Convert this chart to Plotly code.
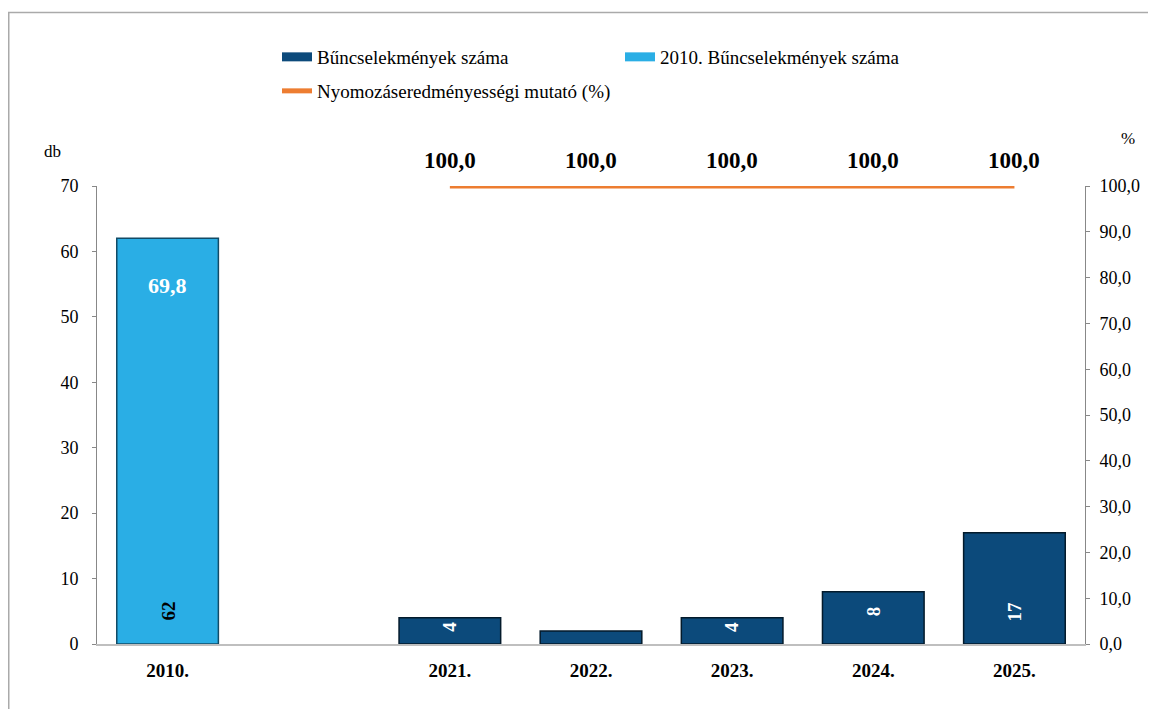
import plotly.graph_objects as go

categories = ["2010.", "", "2021.", "2022.", "2023.", "2024.", "2025."]
crimes = [None, None, 4, 2, 4, 8, 17]
crimes_2010 = [62, None, None, None, None, None, None]
rate = [None, None, 100.0, 100.0, 100.0, 100.0, 100.0]
rate_2010 = 69.8

name_crimes = "Bűncselekmények száma"
name_2010 = "2010. Bűncselekmények száma"
name_rate = "Nyomozáseredményességi mutató (%)"

NAVY = "#0C4A7B"
LIGHT = "#2AAEE5"
ORANGE = "#ED7D31"
FONT = "Liberation Serif"

xpos = list(range(len(categories)))

def fmt(v):
    return f"{v:.1f}".replace(".", ",")

fig = go.Figure()

fig.add_trace(go.Bar(
    x=xpos, y=crimes_2010, width=0.72,
    marker=dict(color=LIGHT, line=dict(color="#124B66", width=1.5)),
    showlegend=False, hoverinfo="skip"))
fig.add_trace(go.Bar(
    x=xpos, y=crimes, width=0.72,
    marker=dict(color=NAVY, line=dict(color="#031A2B", width=1.5)),
    showlegend=False, hoverinfo="skip"))
fig.add_trace(go.Scatter(
    x=xpos, y=rate, yaxis="y2", mode="lines",
    line=dict(color=ORANGE, width=5), showlegend=False, hoverinfo="skip"))

# legend entries (wide swatches)
fig.add_trace(go.Scatter(x=[None], y=[None], mode="lines", name=name_crimes,
                         line=dict(color=NAVY, width=9), legend="legend"))
fig.add_trace(go.Scatter(x=[None], y=[None], mode="lines", name=name_2010,
                         line=dict(color=LIGHT, width=9), legend="legend"))
fig.add_trace(go.Scatter(x=[None], y=[None], mode="lines", name=name_rate,
                         line=dict(color=ORANGE, width=5), legend="legend2"))

px_per_unit = 458 / 70
annotations = []
for series, color in ((crimes_2010, "black"), (crimes, "white")):
    for xi, v in zip(xpos, series):
        if v is None or v * px_per_unit < 20:
            continue
        shift = min(33, v * px_per_unit - 9)
        annotations.append(dict(x=xi, y=0, xref="x", yref="y", text=f"<b>{v}</b>",
                                showarrow=False, textangle=-90, yshift=shift,
                                font=dict(family=FONT, size=19, color=color)))
for xi, v in zip(xpos, rate):
    if v is None:
        continue
    annotations.append(dict(x=xi, y=v, xref="x", yref="y2", text=f"<b>{fmt(v)}</b>",
                            showarrow=False, yshift=26,
                            font=dict(family=FONT, size=23, color="black")))
annotations.append(dict(x=xpos[0], y=crimes_2010[0], xref="x", yref="y",
                        text=f"<b>{fmt(rate_2010)}</b>", showarrow=False, yshift=-47,
                        font=dict(family=FONT, size=22, color="white")))

# page offset (body margin) = 8px
OFF = 8
W, H = 1156 - OFF, 709 - OFF
L, R, T, B = 97 - OFF, 71, 186 - OFF, 65
pw, ph = W - L - R, H - T - B

def px_x(p):  # screen px -> paper
    return (p - OFF - L) / pw

def px_y(p):
    return (H - B - (p - OFF)) / ph

annotations.append(dict(x=px_x(52), y=px_y(152), xref="paper", yref="paper", text="db",
                        xanchor="center", yanchor="middle",
                        showarrow=False, font=dict(family=FONT, size=17, color="black")))
annotations.append(dict(x=px_x(1128), y=px_y(138), xref="paper", yref="paper", text="%",
                        xanchor="center", yanchor="middle",
                        showarrow=False, font=dict(family=FONT, size=17, color="black")))

fig.update_layout(
    width=W, height=H,
    margin=dict(l=L, r=R, t=T, b=B),
    paper_bgcolor="white", plot_bgcolor="white",
    barmode="overlay",
    separators=", ",
    font=dict(family=FONT, size=17, color="black"),
    xaxis=dict(range=[-0.5, len(categories) - 0.5], tickmode="array", tickvals=xpos,
               ticktext=[f"<b>{c}</b>" for c in categories],
               showline=True, linecolor="#BFBFBF", linewidth=1.5, ticks="",
               tickfont=dict(family=FONT, size=19, color="black"),
               ticklabelstandoff=8, showgrid=False, zeroline=False),
    yaxis=dict(range=[0, 70], dtick=10, showline=True, linecolor="#888888", linewidth=1,
               ticks="outside", ticklen=4, tickcolor="#888888", showgrid=False, zeroline=False,
               tickfont=dict(family=FONT, size=18, color="black"), ticklabelstandoff=10),
    yaxis2=dict(range=[0, 100], dtick=10, overlaying="y", side="right", tickformat=".1f",
                showline=True, linecolor="#888888", linewidth=1, ticks="outside", ticklen=4,
                tickcolor="#888888", showgrid=False, zeroline=False,
                tickfont=dict(family=FONT, size=18, color="black"), ticklabelstandoff=6),
    legend=dict(orientation="h", x=px_x(277), y=px_y(57), xanchor="left", yanchor="middle",
                font=dict(family=FONT, size=19, color="black"), entrywidth=298,
                itemwidth=30, bgcolor="rgba(0,0,0,0)", tracegroupgap=0),
    legend2=dict(orientation="h", x=px_x(277), y=px_y(91), xanchor="left", yanchor="middle",
                 font=dict(family=FONT, size=19, color="black"),
                 itemwidth=30, bgcolor="rgba(0,0,0,0)"),
    annotations=annotations,
    shapes=[dict(type="rect", xref="paper", yref="paper",
                 x0=px_x(OFF + 0.75), x1=px_x(1180), y0=px_y(730), y1=px_y(12.5),
                 line=dict(color="#AAAAAA", width=1.5), fillcolor="rgba(0,0,0,0)", layer="below")],
)

fig.write_html("out.html")
